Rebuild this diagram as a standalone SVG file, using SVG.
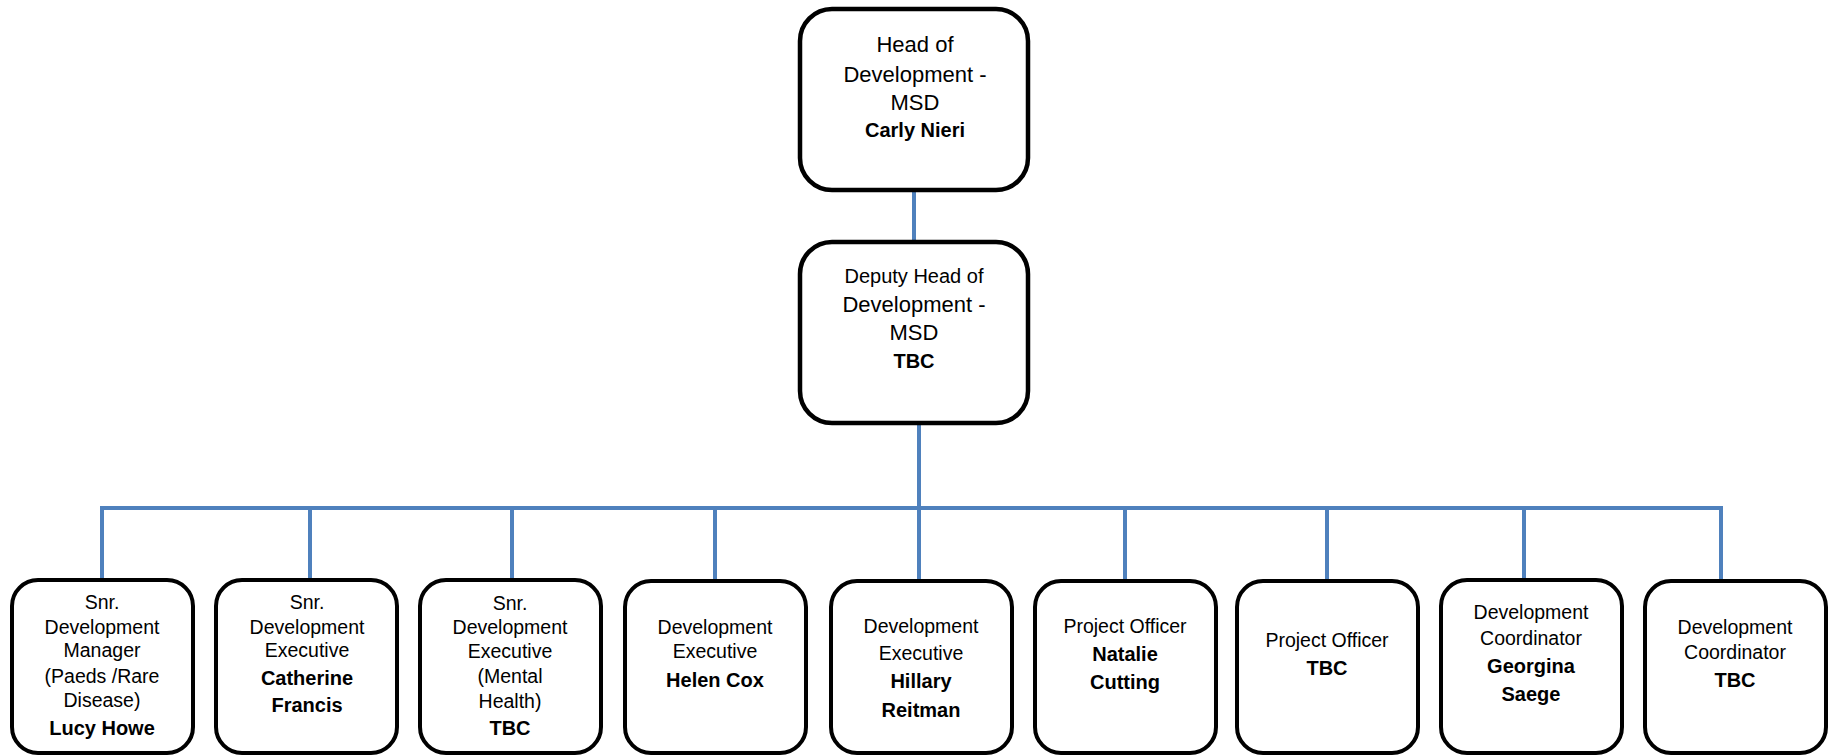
<svg xmlns="http://www.w3.org/2000/svg" width="1835" height="756" viewBox="0 0 1835 756">
<style>
.box{fill:#fff;stroke:#000;stroke-width:4.5}
.sbox{fill:#fff;stroke:#000;stroke-width:4}
.conn{stroke:#4F81BD;stroke-width:4;fill:none}
text{font-family:"Liberation Sans",Arial,sans-serif;fill:#000;text-anchor:middle}
.t{font-size:22px}
.t2{font-size:20px}
.s{font-size:19.5px}
.b{font-size:20px;font-weight:bold}
</style>
<rect width="1835" height="756" fill="#fff"/>
<g id="connectors">
<line class="conn" x1="914" y1="190" x2="914" y2="242"/>
<line class="conn" x1="919" y1="423" x2="919" y2="580"/>
<polyline class="conn" points="102,580 102,508 1721,508 1721,580"/>
<line class="conn" x1="310" y1="508" x2="310" y2="580"/>
<line class="conn" x1="512" y1="508" x2="512" y2="580"/>
<line class="conn" x1="715" y1="508" x2="715" y2="580"/>
<line class="conn" x1="1125" y1="508" x2="1125" y2="580"/>
<line class="conn" x1="1327" y1="508" x2="1327" y2="580"/>
<line class="conn" x1="1524" y1="508" x2="1524" y2="580"/>
</g>
<g id="head">
<rect class="box" x="800" y="9" width="228" height="181" rx="32"/>
<text class="t" x="915" y="52">Head of</text>
<text class="t" x="915" y="82">Development -</text>
<text class="t" x="915" y="110">MSD</text>
<text class="b" x="915" y="137">Carly Nieri</text>
</g>
<g id="deputy">
<rect class="box" x="800" y="242" width="228" height="181" rx="32"/>
<text class="t2" x="914" y="283">Deputy Head of</text>
<text class="t" x="914" y="312">Development -</text>
<text class="t" x="914" y="340">MSD</text>
<text class="b" x="914" y="368">TBC</text>
</g>
<g id="n1">
<rect class="sbox" x="12" y="580" width="181" height="173" rx="26"/>
<text class="s" x="102" y="609">Snr.</text>
<text class="s" x="102" y="634">Development</text>
<text class="s" x="102" y="657">Manager</text>
<text class="s" x="102" y="683">(Paeds /Rare</text>
<text class="s" x="102" y="707">Disease)</text>
<text class="b" x="102" y="735">Lucy Howe</text>
</g>
<g id="n2">
<rect class="sbox" x="216" y="580" width="181" height="173" rx="26"/>
<text class="s" x="307" y="609">Snr.</text>
<text class="s" x="307" y="634">Development</text>
<text class="s" x="307" y="657">Executive</text>
<text class="b" x="307" y="685">Catherine</text>
<text class="b" x="307" y="712">Francis</text>
</g>
<g id="n3">
<rect class="sbox" x="420" y="580" width="181" height="173" rx="26"/>
<text class="s" x="510" y="610">Snr.</text>
<text class="s" x="510" y="634">Development</text>
<text class="s" x="510" y="658">Executive</text>
<text class="s" x="510" y="683">(Mental</text>
<text class="s" x="510" y="708">Health)</text>
<text class="b" x="510" y="735">TBC</text>
</g>
<g id="n4">
<rect class="sbox" x="625" y="581" width="181" height="172" rx="26"/>
<text class="s" x="715" y="634">Development</text>
<text class="s" x="715" y="658">Executive</text>
<text class="b" x="715" y="687">Helen Cox</text>
</g>
<g id="n5">
<rect class="sbox" x="831" y="581" width="181" height="172" rx="26"/>
<text class="s" x="921" y="633">Development</text>
<text class="s" x="921" y="660">Executive</text>
<text class="b" x="921" y="688">Hillary</text>
<text class="b" x="921" y="717">Reitman</text>
</g>
<g id="n6">
<rect class="sbox" x="1035" y="581" width="181" height="172" rx="26"/>
<text class="s" x="1125" y="633">Project Officer</text>
<text class="b" x="1125" y="661">Natalie</text>
<text class="b" x="1125" y="689">Cutting</text>
</g>
<g id="n7">
<rect class="sbox" x="1237" y="581" width="181" height="172" rx="26"/>
<text class="s" x="1327" y="647">Project Officer</text>
<text class="b" x="1327" y="675">TBC</text>
</g>
<g id="n8">
<rect class="sbox" x="1441" y="580" width="181" height="173" rx="26"/>
<text class="s" x="1531" y="619">Development</text>
<text class="s" x="1531" y="645">Coordinator</text>
<text class="b" x="1531" y="673">Georgina</text>
<text class="b" x="1531" y="701">Saege</text>
</g>
<g id="n9">
<rect class="sbox" x="1645" y="581" width="181" height="172" rx="26"/>
<text class="s" x="1735" y="634">Development</text>
<text class="s" x="1735" y="659">Coordinator</text>
<text class="b" x="1735" y="687">TBC</text>
</g>
</svg>
